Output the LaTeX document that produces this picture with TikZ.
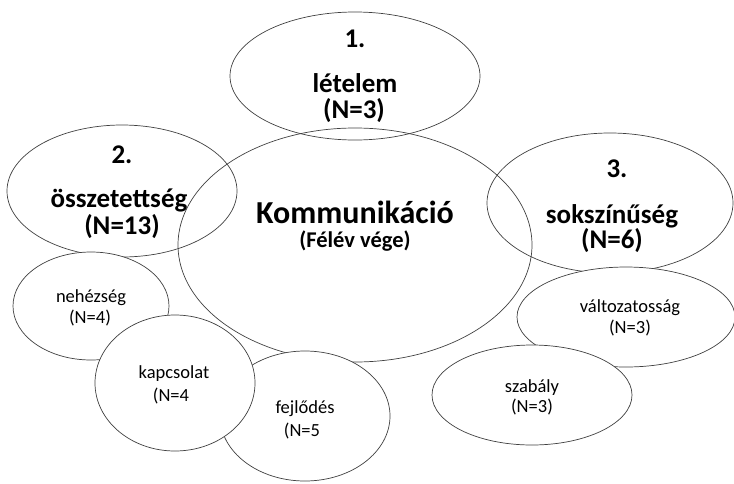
\documentclass[tikz,border=0pt]{standalone}
\usepackage{fontspec}
\setmainfont{Carlito}
\usetikzlibrary{shapes.geometric}

\tikzset{
  blob/.style={ellipse, draw=black!75, line width=.7pt, inner sep=0pt},
  subblob/.style={blob, fill=white},
  title/.style={anchor=base, font=\bfseries\fontsize{32}{36}\selectfont},
  sub/.style={anchor=base, font=\bfseries\fontsize{22.5}{26}\selectfont},
  head/.style={anchor=base, font=\bfseries\fontsize{27}{30}\selectfont},
  small/.style={anchor=base, font=\fontsize{18.5}{21}\selectfont},
}

\begin{document}
\begin{tikzpicture}[x=1pt,y=-1pt]
                \useasboundingbox (0,0) rectangle (734,483);
                % main ellipses
                \node[blob, minimum width=354pt, minimum height=234pt] (kom) at (355,245) {};
                \node[blob, minimum width=250pt, minimum height=128pt] (let) at (355,76) {};
                \node[blob, minimum width=230pt, minimum height=132pt] (oss) at (122,191) {};
                \node[blob, minimum width=246pt, minimum height=140pt] (sok) at (610,203) {};
                % sub ellipses
                \node[subblob, minimum width=156pt, minimum height=108pt] (neh) at (91,306) {};
                \node[subblob, minimum width=170pt, minimum height=130pt] (fej) at (305,416) {};
                \node[subblob, minimum width=160pt, minimum height=136pt] (kap) at (175,383) {};
                \node[subblob, minimum width=218pt, minimum height=100pt] (val) at (626,317) {};
                \node[subblob, minimum width=200pt, minimum height=100pt] (sza) at (532,395) {};
                % texts
                \node[title] (komt) at (355,223) {Kommunikáció};
                \node[sub] (koms) at (355,247) {(Félév vége)};
                \node[head] (let1) at (355,47) {1.};
                \node[head] (let2) at (355,92) {lételem};
                \node[head] (let3) at (354,118) {(N=3)};
                \node[head] (oss1) at (122,163) {2.};
                \node[head] (oss2) at (119,207) {összetettség};
                \node[head] (oss3) at (122,234) {(N=13)};
                \node[head] (sok1) at (617,177) {3.};
                \node[head] (sok2) at (612,223) {sokszínűség};
                \node[head] (sok3) at (612,248) {(N=6)};
                \node[small] (neh1) at (91,302) {nehézség};
                \node[small] (neh2) at (90,323) {(N=4)};
                \node[small] (kap1) at (174,378) {kapcsolat};
                \node[small] (kap2) at (171,401) {(N=4};
                \node[small] (fej1) at (305,413) {fejlődés};
                \node[small] (fej2) at (302,436) {(N=5};
                \node[small] (val1) at (630,312) {változatosság};
                \node[small] (val2) at (630,333) {(N=3)};
                \node[small] (sza1) at (532,392) {szabály};
                \node[small] (sza2) at (532,412) {(N=3)};
\end{tikzpicture}
\end{document}
